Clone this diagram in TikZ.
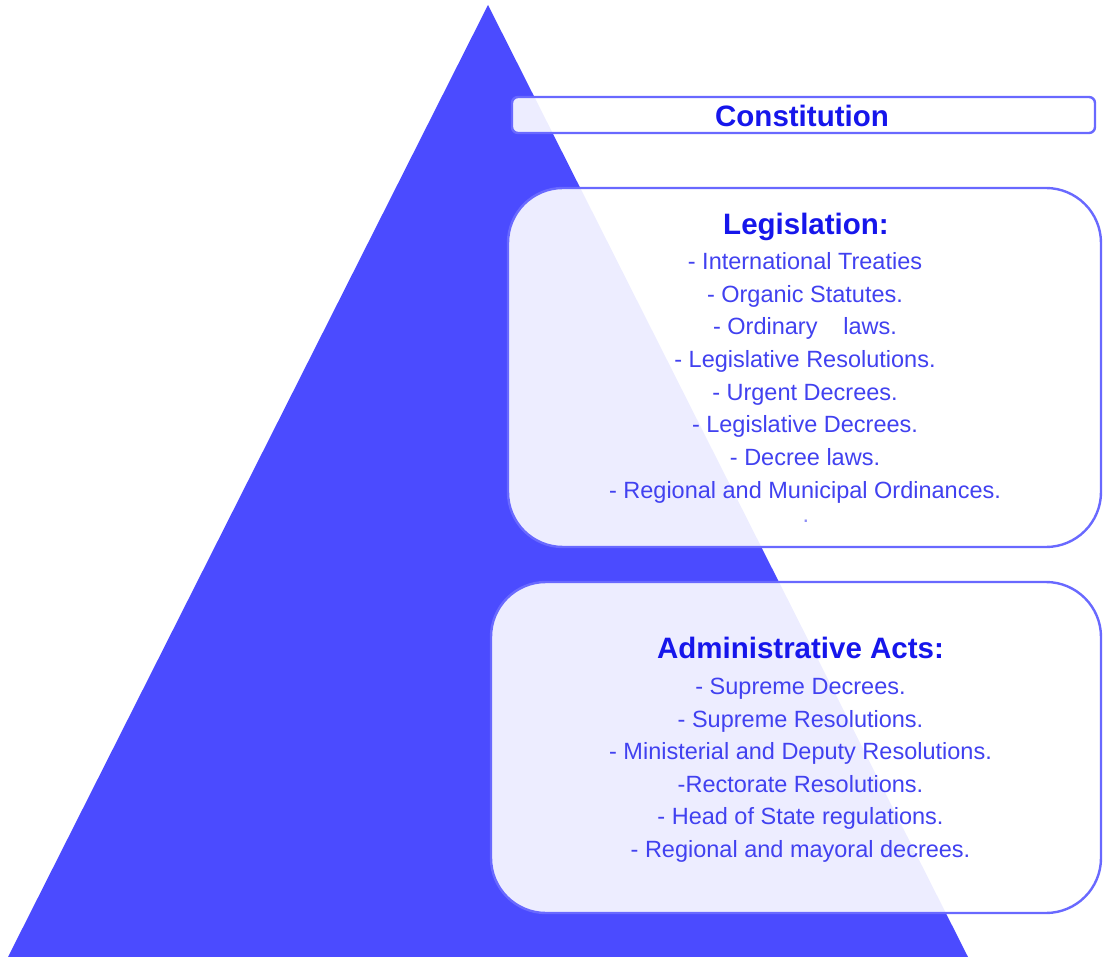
\documentclass[tikz,border=0pt]{standalone}
\usepackage{fontspec}
\setmainfont{Liberation Sans}
\definecolor{tricol}{RGB}{75,75,255}
\definecolor{boxline}{RGB}{105,105,255}
\definecolor{titlecol}{RGB}{22,22,235}
\definecolor{itemcol}{RGB}{65,65,240}
\begin{document}
\begin{tikzpicture}[x=1pt,y=-1pt,
  tri/.style={fill=tricol},
  panel/.style={draw=boxline, line width=2.4pt, fill=white, fill opacity=0.9},
  ttl/.style={anchor=base, inner sep=0pt, text=titlecol, font=\fontsize{29.5}{33}\selectfont\bfseries},
  itm/.style={anchor=base, inner sep=0pt, text=itemcol, font=\fontsize{23.5}{28}\selectfont}]
\useasboundingbox (0,0) rectangle (1103,957);
% pyramid
\coordinate (apex) at (488,5);
\coordinate (bl) at (8,957);
\coordinate (br) at (968,957);
\fill[tri] (apex) -- (br) -- (bl) -- cycle;
% panels
\draw[panel, rounded corners=6pt] (512,97) rectangle (1095,133);
\draw[panel, rounded corners=55pt] (508,188) rectangle (1101,547);
\draw[panel, rounded corners=55pt] (491,582) rectangle (1101,913);
% texts
\node[ttl] (const) at (802,126.6) {Constitution};
\node[ttl] (legis) at (806,234.6) {Legislation:};
\foreach \t [count=\i from 0] in {%
  - International Treaties,
  - Organic Statutes.,
  - Ordinary\hspace{1.1em}laws.,
  - Legislative Resolutions.,
  - Urgent Decrees.,
  - Legislative Decrees.,
  - Decree laws.,
  - Regional and Municipal Ordinances.}
  \node[itm] (leg\i) at (805,{269.4+32.7*\i}) {\t};
\node[itm, text=itemcol!60] (legdot) at (806,522) {.};
\node[ttl] (admin) at (800.5,658.6) {Administrative Acts:};
\foreach \t [count=\i from 0] in {%
  - Supreme Decrees.,
  - Supreme Resolutions.,
  - Ministerial and Deputy Resolutions.,
  -Rectorate Resolutions.,
  - Head of State regulations.,
  - Regional and mayoral decrees.}
  \node[itm] (adm\i) at (800.5,{694.4+32.6*\i}) {\t};
\end{tikzpicture}
\end{document}
